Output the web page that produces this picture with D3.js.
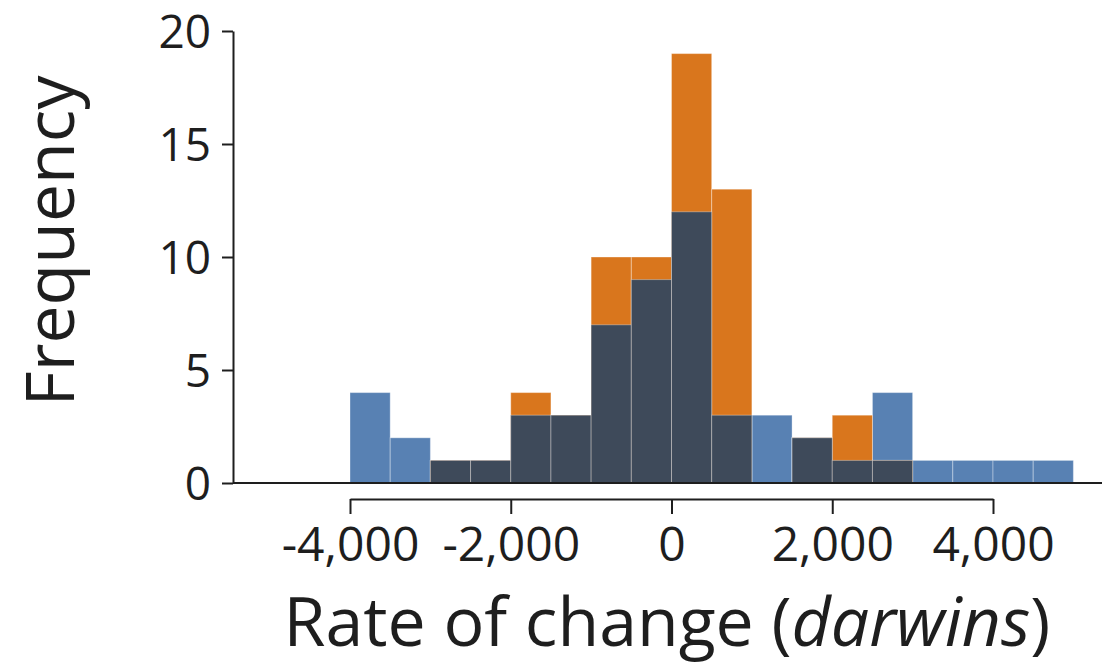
<!DOCTYPE html>
<html>
<head>
<meta charset="utf-8">
<script src="https://cdn.jsdelivr.net/npm/d3@7"></script>
<style>
  body { margin: 0; background: #fff; }
  text { font-family: "Open Sans", "Noto Sans", sans-serif; fill: #1e1e1e; }
</style>
</head>
<body>
<svg id="chart"></svg>
<script>
// bins of 500 darwins, lower edges
const binStarts = [-4000, -3500, -3000, -2500, -2000, -1500, -1000, -500, 0, 500, 1000, 1500, 2000, 2500, 3000, 3500, 4000, 4500];
const blueCounts = [4, 2, 1, 1, 3, 3, 7, 9, 12, 3, 3, 2, 1, 4, 1, 1, 1, 1];
const orangeCounts = [0, 0, 1, 1, 4, 3, 10, 10, 19, 13, 0, 2, 3, 1, 0, 0, 0, 0];
const binWidth = 500;
const yTicks = [0, 5, 10, 15, 20];
const xTicks = [-4000, -2000, 0, 2000, 4000];

const width = 1102, height = 666;
const svg = d3.select("#chart").attr("width", width).attr("height", height);

const x = d3.scaleLinear().domain([-4000, 4000]).range([350, 993]);
const y = d3.scaleLinear().domain([0, 20]).range([483, 31]);

const bins = binStarts.map((s, i) => ({
  x0: s, x1: s + binWidth,
  blue: blueCounts[i], orange: orangeCounts[i],
  both: d3.min([blueCounts[i], orangeCounts[i]])
}));

function bars(cls, key, color) {
  svg.append("g").selectAll("rect." + cls)
    .data(bins.filter(d => d[key] > 0))
    .enter().append("rect")
    .attr("class", cls)
    .attr("x", d => x(d.x0))
    .attr("y", d => y(d[key]))
    .attr("width", d => x(d.x1) - x(d.x0))
    .attr("height", d => y(0) - y(d[key]))
    .attr("fill", color)
    .attr("stroke", "rgba(255,255,255,0.35)")
    .attr("stroke-width", 1);
}
bars("blue", "blue", "#5881b3");
bars("orange", "orange", "#d9761d");
bars("both", "both", "#3e4a5a");

// baseline
svg.append("line")
  .attr("x1", 233).attr("x2", width)
  .attr("y1", y(0)).attr("y2", y(0))
  .attr("stroke", "#1e1e1e").attr("stroke-width", 2);

// y axis
const yAxis = d3.axisLeft(y).tickValues(yTicks).tickSize(11).tickSizeOuter(0).tickPadding(11);
const gy = svg.append("g").attr("transform", "translate(233,0)").call(yAxis);
gy.selectAll("path, line").attr("stroke", "#1e1e1e").attr("stroke-width", 2);
gy.selectAll("text").style("font-size", "46px").attr("fill", "#1e1e1e").attr("dy", "0.36em");

// x axis
const fmt = d3.format(",");
const xAxis = d3.axisBottom(x).tickValues(xTicks).tickSize(15)
  .tickSizeOuter(0).tickPadding(13).tickFormat(d => fmt(d).replace("\u2212", "-"));
const gx = svg.append("g").attr("transform", "translate(0,499)").call(xAxis);
gx.selectAll("path, line").attr("stroke", "#1e1e1e").attr("stroke-width", 2);
gx.selectAll("text").style("font-size", "48px").attr("fill", "#1e1e1e");

// axis titles
const xt = svg.append("text")
  .attr("x", 667).attr("y", 646)
  .attr("text-anchor", "middle")
  .style("font-size", "68px");
xt.append("tspan").text("Rate of change (");
xt.append("tspan").style("font-style", "italic").text("darwins");
xt.append("tspan").text(")");

svg.append("text")
  .attr("transform", "translate(74,241) rotate(-90)")
  .attr("text-anchor", "middle")
  .style("font-size", "68px")
  .text("Frequency");
</script>
</body>
</html>
